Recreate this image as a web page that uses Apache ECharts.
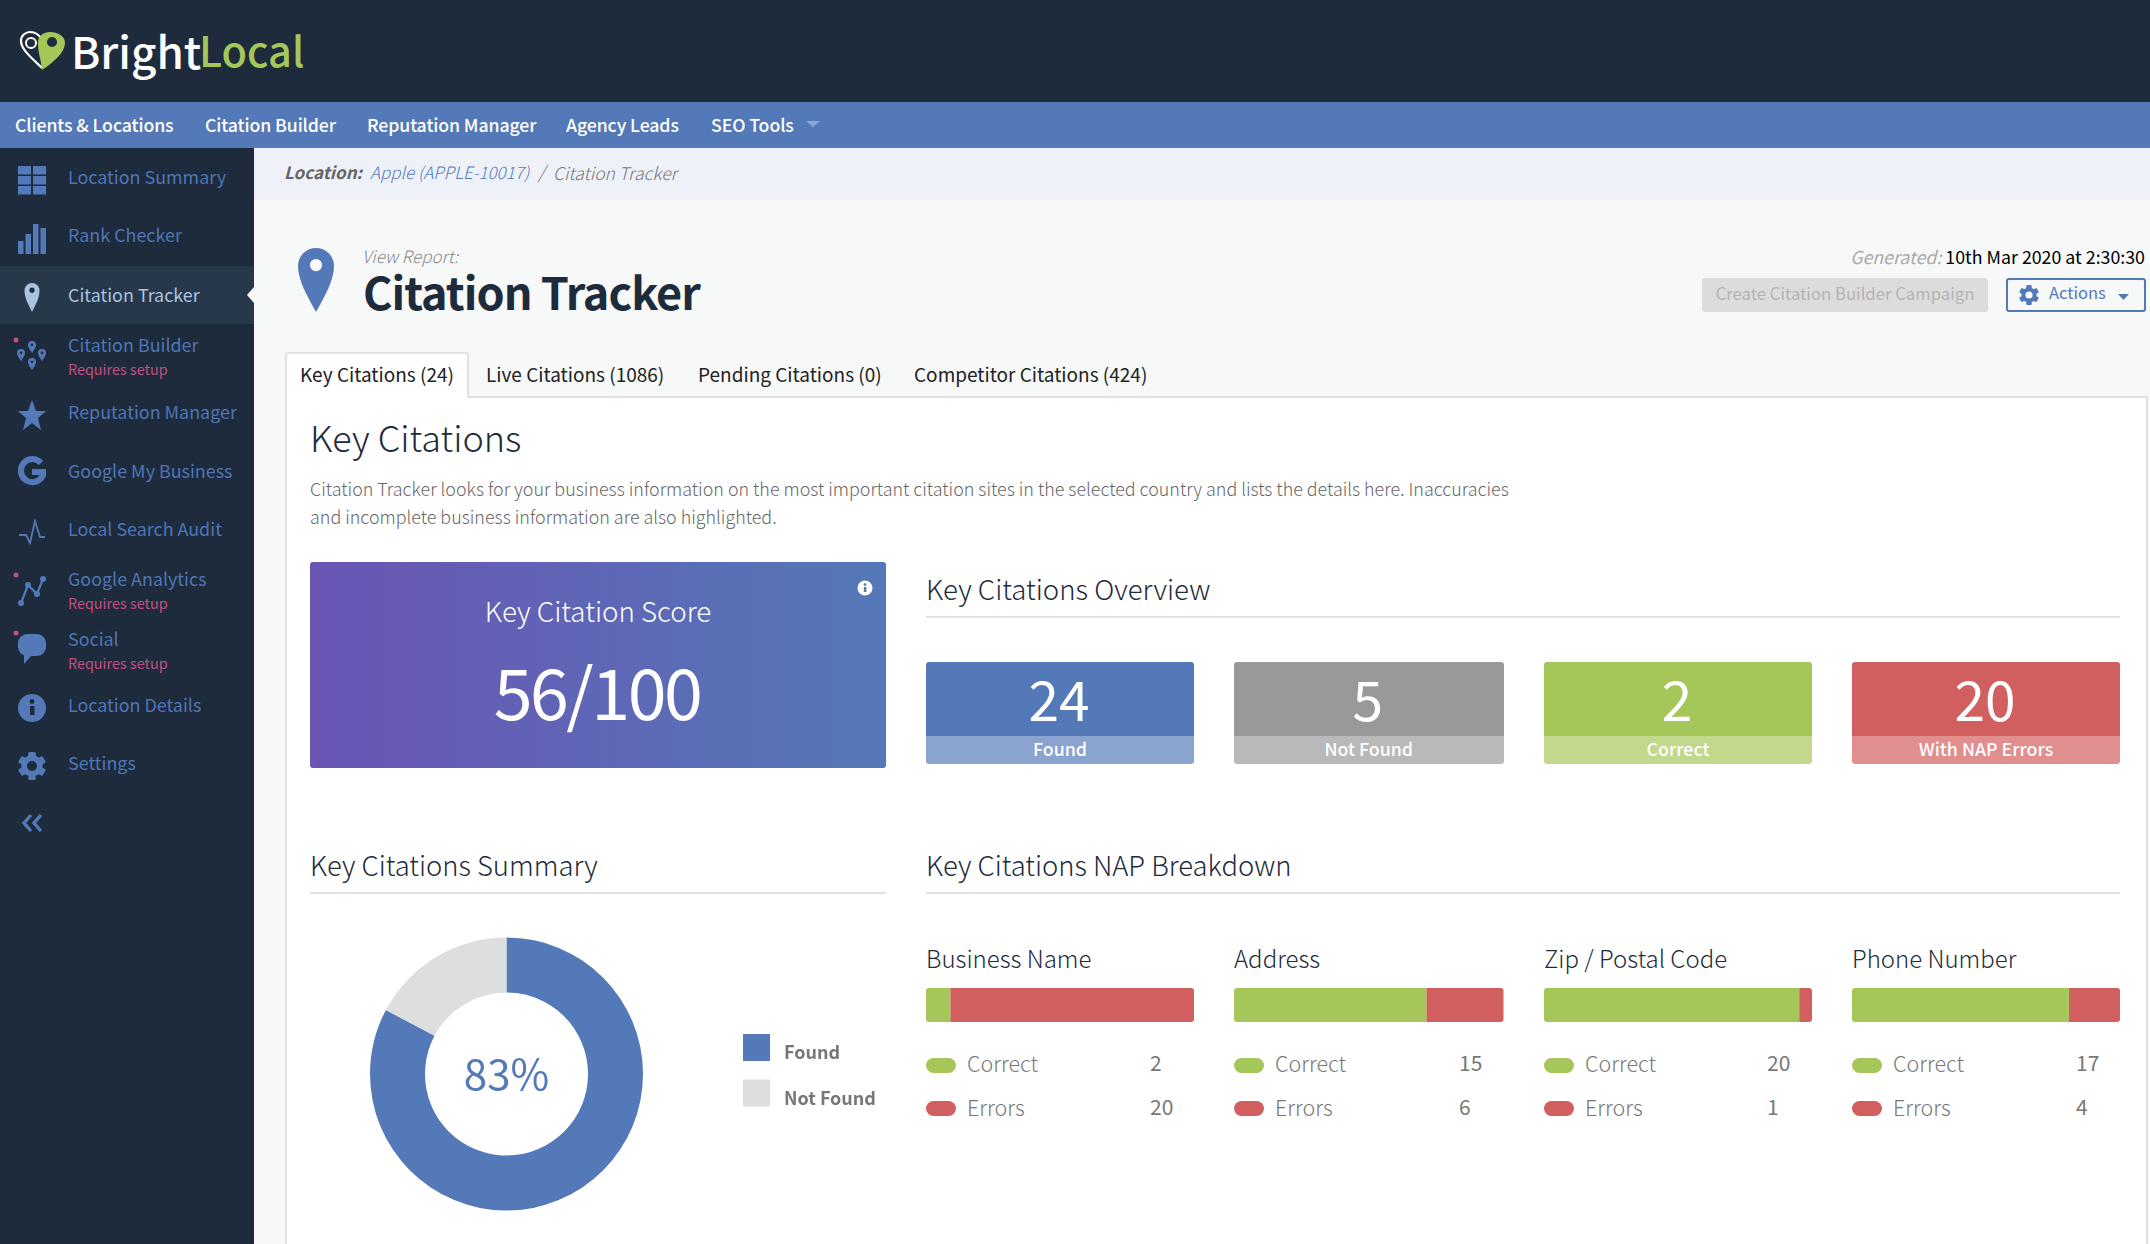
<!DOCTYPE html>
<html>
<head>
<meta charset="utf-8">
<title>Citation Tracker</title>
<script src="https://cdn.jsdelivr.net/npm/echarts@6/dist/echarts.min.js"></script>
<style>
html, body { margin: 0; padding: 0; width: 2150px; height: 1244px; overflow: hidden; background: #f7f8f8; }
body { position: relative; font-family: "Noto Sans CJK JP", "Noto Sans", sans-serif; }
.box, .t, svg { position: absolute; }
.t { white-space: nowrap; transform: translateY(-50%); line-height: 1.2; }
.c { transform: translate(-50%, -50%); text-align: center; }
#chart { position: absolute; left: 0; top: 0; width: 2150px; height: 1244px; pointer-events: none; }
</style>
</head>
<body>
<div id="page"></div>
<div id="chart"></div>
<script>
// values
var summaryLabels = ['Found', 'Not Found'];
var summaryValues = [24, 5];
var breakdownNames = ['Business Name', 'Address', 'Zip / Postal Code', 'Phone Number'];
var correctValues = [2, 15, 20, 17];
var errorValues = [20, 6, 1, 4];
var overviewLabels = ['Found', 'Not Found', 'Correct', 'With NAP Errors'];
var overviewValues = [24, 5, 2, 20];
var navLabels = ['Clients & Locations', 'Citation Builder', 'Reputation Manager', 'Agency Leads', 'SEO Tools'];
var sideLabels = ['Location Summary', 'Rank Checker', 'Citation Tracker', 'Citation Builder', 'Reputation Manager', 'Google My Business', 'Local Search Audit', 'Google Analytics', 'Social', 'Location Details', 'Settings'];
var tabLabels = ['Key Citations (24)', 'Live Citations (1086)', 'Pending Citations (0)', 'Competitor Citations (424)'];

var BLUE = '#5479b8', GREEN = '#a5c659', RED = '#d15f5f', NAVY = '#1e2b3c', GREY = '#e0e2e3';
var colX = [926, 1234, 1544, 1852];
var colW = [268, 269.5, 268, 268];
var countX = [1150, 1459, 1767, 2076];
var page = document.getElementById('page');

function box(x, y, w, h, css) {
	var d = document.createElement('div');
	d.className = 'box';
	d.style.cssText = 'left:' + x + 'px;top:' + y + 'px;width:' + w + 'px;height:' + h + 'px;' + (css || '');
	page.appendChild(d);
	return d;
}
function txt(x, y, s, size, color, css, center) {
	var d = document.createElement('div');
	d.className = center ? 't c' : 't';
	d.textContent = s;
	d.style.cssText = 'left:' + x + 'px;top:' + y + 'px;font-size:' + size + 'px;color:' + color + ';' + (css || '');
	page.appendChild(d);
	return d;
}
function svg(x, y, w, h, inner) {
	var d = document.createElement('div');
	d.innerHTML = '<svg xmlns="http://www.w3.org/2000/svg" style="left:' + x + 'px;top:' + y + 'px" width="' + w + '" height="' + h + '" viewBox="0 0 ' + w + ' ' + h + '">' + inner + '</svg>';
	page.appendChild(d.firstChild);
}
function pin(cx, top, w, h, fill, hole) {
	// teardrop location marker
	var r = w / 2;
	return '<path fill="' + fill + '" d="M' + cx + ' ' + (top + h) + 'C' + (cx - r * 0.5) + ' ' + (top + h * 0.75) + ' ' + (cx - r) + ' ' + (top + h * 0.5) + ' ' + (cx - r) + ' ' + (top + r) +
		'A' + r + ' ' + r + ' 0 0 1 ' + (cx + r) + ' ' + (top + r) + 'C' + (cx + r) + ' ' + (top + h * 0.5) + ' ' + (cx + r * 0.5) + ' ' + (top + h * 0.75) + ' ' + cx + ' ' + (top + h) + 'Z"/>' +
		'<circle cx="' + cx + '" cy="' + (top + r * 0.95) + '" r="' + (r * 0.34) + '" fill="' + hole + '"/>';
}
function gear(cx, cy, r, fill, hole) {
	var s = '';
	for (var i = 0; i < 3; i++) {
		s += '<rect x="' + (cx - r * 0.27) + '" y="' + (cy - r) + '" width="' + (r * 0.54) + '" height="' + (r * 2) + '" rx="' + (r * 0.1) + '" fill="' + fill + '" transform="rotate(' + (i * 60) + ' ' + cx + ' ' + cy + ')"/>';
	}
	return s + '<circle cx="' + cx + '" cy="' + cy + '" r="' + (r * 0.76) + '" fill="' + fill + '"/><circle cx="' + cx + '" cy="' + cy + '" r="' + (r * 0.36) + '" fill="' + hole + '"/>';
}

// page frame
box(0, 0, 2150, 102, 'background:' + NAVY);
box(0, 102, 2150, 46, 'background:' + BLUE);
box(0, 148, 254, 1096, 'background:' + NAVY);
box(254, 148, 1896, 52, 'background:#eef1f8');

// logo
svg(18, 30, 50, 42,
	'<path d="M24 38C16 30 3 20 3 11C3 5 8 2 12 2C18 2 22 6 24 10" fill="none" stroke="#fff" stroke-width="2.2"/>' +
	'<circle cx="13" cy="13" r="5" fill="none" stroke="#fff" stroke-width="2"/>' +
	'<path fill="' + GREEN + '" d="M24 40C23 28 20 24 20 13C20 6 25 2 32 2C40 2 47 6 47 13C47 22 36 32 24 40Z"/>' +
	'<circle cx="34" cy="12" r="5" fill="' + NAVY + '"/>');
txt(71, 50, 'Bright', 44, '#fff', 'font-weight:500');
txt(199, 50, 'Local', 41.5, GREEN, 'font-weight:500');

// top nav
var navX = [15, 205, 367, 566, 711];
navLabels.forEach(function(s, i) {
	txt(navX[i], 125, s, 17.7, '#fff', 'font-weight:500;letter-spacing:-0.1px');
});
svg(806, 121, 16, 8, '<path d="M0 0H14L7 6Z" fill="#8ba6d4"/>');

// sidebar
var sideY = [176.5, 235, 295, 345, 411.5, 471, 529, 579, 639, 705, 763];
var setupRows = [3, 7, 8];
box(0, 266, 254, 58, 'background:#27384b');
svg(247, 287, 7, 16, '<path d="M7 0V16L0 8Z" fill="#f7f8f8"/>');
sideLabels.forEach(function(s, i) {
	txt(68, sideY[i], s, 17.9, i === 2 ? '#a9c2df' : '#4f75b5');
	if (setupRows.indexOf(i) >= 0) txt(68, sideY[i] + 24, 'Requires setup', 14.4, '#c04f85');
});
svg(0, 150, 60, 700,
	// location summary
	'<g fill="' + BLUE + '"><rect x="18" y="16" width="13" height="8.5"/><rect x="33" y="16" width="13" height="8.5"/><rect x="18" y="26" width="13" height="8.5"/><rect x="33" y="26" width="13" height="8.5"/><rect x="18" y="36" width="13" height="8.5"/><rect x="33" y="36" width="13" height="8.5"/>' +
	// rank checker
	'<rect x="18" y="91" width="5.5" height="13"/><rect x="25.5" y="84" width="5.5" height="20"/><rect x="33" y="74" width="5.5" height="30"/><rect x="40.5" y="78" width="5.5" height="26"/></g>' +
	pin(32, 133, 15, 29, '#a9c2df', NAVY) +
	// citation builder
	pin(32, 191, 8, 12, BLUE, NAVY) + pin(21, 199, 8, 12, BLUE, NAVY) + pin(42, 199, 8, 12, BLUE, NAVY) + pin(32, 208, 8, 12, BLUE, NAVY) +
	'<circle cx="16" cy="190" r="2.5" fill="#c04f85"/>' +
	// star
	'<path fill="' + BLUE + '" d="M32 250L36 261H46L38 268L41 280L32 273L23 280L26 268L18 261H28Z"/>' +
	// G
	'<path fill="none" stroke="' + BLUE + '" stroke-width="6" d="M41 313A11.5 11.5 0 1 0 43 325V322H32"/>' +
	// pulse
	'<path fill="none" stroke="' + BLUE + '" stroke-width="1.8" d="M19 385H26L30 393L35 371L40 387H45"/>' +
	// analytics
	'<path fill="none" stroke="' + BLUE + '" stroke-width="2.2" d="M21 453L28 435L37 444L43 429"/>' +
	'<g fill="' + BLUE + '"><circle cx="21" cy="453" r="3"/><circle cx="28" cy="435" r="3"/><circle cx="37" cy="444" r="3"/><circle cx="43" cy="429" r="3"/></g>' +
	'<circle cx="16" cy="425" r="2.5" fill="#c04f85"/>' +
	// social
	'<rect x="18" y="484" width="28" height="22" rx="9" fill="' + BLUE + '"/><path fill="' + BLUE + '" d="M24 502L24 514L33 504Z"/>' +
	'<circle cx="16" cy="483" r="2.5" fill="#c04f85"/>' +
	// details
	'<circle cx="32" cy="558" r="14" fill="' + BLUE + '"/><rect x="30" y="556" width="4.5" height="9" fill="' + NAVY + '"/><circle cx="32" cy="551.5" r="2.4" fill="' + NAVY + '"/>' +
	gear(32, 616, 14, BLUE, NAVY) +
	// collapse
	'<path fill="none" stroke="' + BLUE + '" stroke-width="3.4" d="M31 665L24 673L31 681M41 665L34 673L41 681"/>');

// breadcrumb
txt(284, 172, 'Location:', 17, '#666', 'font-style:italic;font-weight:700');
txt(370, 172, 'Apple (APPLE-10017)', 17, BLUE, 'font-style:italic;font-weight:300');
txt(538, 172, '/', 18, '#777', 'font-style:italic;font-weight:300');
txt(553, 172, 'Citation Tracker', 17.5, '#777', 'font-style:italic;font-weight:300');

// report heading
svg(295, 246, 42, 68, pin(21, 2, 36, 64, BLUE, '#f7f8f8'));
txt(362, 256, 'View Report:', 17, '#888', 'font-style:italic;font-weight:300');
txt(363, 291, 'Citation Tracker', 45, NAVY, 'font-weight:700;letter-spacing:-1px');
var genText = txt(2145, 257, '', 17.8, '#000', 'transform:translate(-100%,-50%)');
genText.innerHTML = '<span style="color:#aaa;font-style:italic">Generated:</span> 10th Mar 2020 at 2:30:30';
box(1702, 278, 286, 34, 'background:#dcdcdc;border-radius:3px');
txt(1845, 293, 'Create Citation Builder Campaign', 16.7, '#b4b4b4', '', true);
box(2006, 278, 136, 30, 'border:2px solid ' + BLUE + ';border-radius:3px');
svg(2018, 285, 24, 22, gear(11, 10, 10, BLUE, '#f7f8f8'));
txt(2049, 293, 'Actions', 16.5, BLUE);
svg(2118, 294, 12, 7, '<path d="M0 0H11L5.5 6Z" fill="' + BLUE + '"/>');

// tabs and panel
box(285, 396, 1859, 860, 'background:#fff;border:2px solid ' + GREY);
box(285, 352, 184, 46, 'background:#fff;box-sizing:border-box;border:2px solid ' + GREY + ';border-bottom:0;border-radius:3px 3px 0 0');
var tabX = [300, 486, 698, 914];
tabLabels.forEach(function(s, i) {
	txt(tabX[i], 373.5, s, 19, '#222');
});

// intro
txt(310, 437, 'Key Citations', 36, NAVY, 'font-weight:300');
txt(310, 488.5, 'Citation Tracker looks for your business information on the most important citation sites in the selected country and lists the details here. Inaccuracies', 17.9, '#666', 'font-weight:300');
txt(310, 517, 'and incomplete business information are also highlighted.', 17.9, '#666', 'font-weight:300');

// score card
box(310, 562, 576, 206, 'background:linear-gradient(90deg,#6a54b4,' + BLUE + ');border-radius:3px');
txt(598, 611, 'Key Citation Score', 27.7, '#fff', 'font-weight:300', true);
txt(597, 689.5, '56/100', 70, '#fff', 'letter-spacing:-2.5px', true);
svg(857, 580, 16, 16, '<circle cx="8" cy="8" r="7.5" fill="#fff"/><rect x="6.8" y="7" width="2.6" height="5" fill="' + BLUE + '"/><circle cx="8" cy="4.6" r="1.4" fill="' + BLUE + '"/>');

// overview tiles
txt(926, 589, 'Key Citations Overview', 27.6, NAVY, 'font-weight:300');
box(926, 616, 1194, 2, 'background:' + GREY);
var tileMain = [BLUE, '#999', GREEN, RED];
var tileBand = ['#8aa3cf', '#b9b9b9', '#c2d88c', '#e08e8e'];
overviewLabels.forEach(function(s, i) {
	box(colX[i], 662, colW[i], 74, 'background:' + tileMain[i] + ';border-radius:3px 3px 0 0');
	box(colX[i], 736, colW[i], 28, 'background:' + tileBand[i] + ';border-radius:0 0 3px 3px');
	txt(colX[i] + colW[i] / 2 - 1, 696.5, String(overviewValues[i]), 55, '#fff', '', true);
	txt(colX[i] + colW[i] / 2, 748.5, s, 17.8, '#fff', 'font-weight:500', true);
});

// section heads
txt(310, 864, 'Key Citations Summary', 27.4, NAVY, 'font-weight:300');
box(310, 892, 576, 2, 'background:' + GREY);
txt(926, 864, 'Key Citations NAP Breakdown', 27.4, NAVY, 'font-weight:300');
box(926, 892, 1194, 2, 'background:' + GREY);

// nap breakdown captions and counts
breakdownNames.forEach(function(s, i) {
	txt(colX[i], 957.5, s, 24, NAVY, 'font-weight:300');
	box(colX[i], 1058, 30, 15, 'background:' + GREEN + ';border-radius:8px');
	box(colX[i], 1101, 30, 15, 'background:' + RED + ';border-radius:8px');
	txt(colX[i] + 41, 1063, 'Correct', 21.5, '#777', 'font-weight:300');
	txt(colX[i] + 41, 1107, 'Errors', 21.5, '#777', 'font-weight:300');
	txt(countX[i], 1063, String(correctValues[i]), 21, '#777');
	txt(countX[i], 1107, String(errorValues[i]), 21, '#777');
});

// charts
var chart = echarts.init(document.getElementById('chart'), null, { renderer: 'canvas' });
var grids = [], xAxes = [], yAxes = [], series = [];
breakdownNames.forEach(function(name, i) {
	grids.push({ left: colX[i], top: 988, width: colW[i], height: 34 });
	xAxes.push({ gridIndex: i, type: 'value', min: 0, max: correctValues[i] + errorValues[i], show: false });
	yAxes.push({ gridIndex: i, type: 'category', data: [name], show: false });
	series.push({
		name: 'Correct',
		type: 'bar',
		stack: 'nap' + i,
		xAxisIndex: i,
		yAxisIndex: i,
		barWidth: 34,
		itemStyle: { color: GREEN, borderRadius: [3, 0, 0, 3] },
		data: [correctValues[i]]
	}, {
		name: 'Errors',
		type: 'bar',
		stack: 'nap' + i,
		xAxisIndex: i,
		yAxisIndex: i,
		barWidth: 34,
		itemStyle: { color: RED, borderRadius: [0, 3, 3, 0] },
		data: [errorValues[i]]
	});
});
series.push({
	name: 'Key Citations Summary',
	type: 'pie',
	center: [506.5, 1074],
	radius: [81.5, 136.5],
	startAngle: 90,
	silent: true,
	label: {
		show: true,
		position: 'center',
		formatter: function() {
			return Math.round(summaryValues[0] / (summaryValues[0] + summaryValues[1]) * 100) + '%';
		},
		fontSize: 42,
		fontWeight: 400,
		fontFamily: '"Noto Sans CJK JP"',
		color: BLUE
	},
	labelLine: { show: false },
	data: [
		{ name: summaryLabels[0], value: summaryValues[0], itemStyle: { color: BLUE } },
		{ name: summaryLabels[1], value: summaryValues[1], itemStyle: { color: '#dcdee0' }, label: { show: false } }
	]
});
chart.setOption({
	animation: false,
	backgroundColor: 'transparent',
	grid: grids,
	xAxis: xAxes,
	yAxis: yAxes,
	legend: {
		data: summaryLabels,
		orient: 'vertical',
		left: 743,
		top: 1034,
		padding: 0,
		icon: 'rect',
		itemWidth: 27,
		itemHeight: 27,
		itemGap: 18,
		selectedMode: false,
		formatter: '{t|{name}}',
		textStyle: {
			rich: {
				t: {
					fontFamily: '"Noto Sans CJK JP"',
					fontSize: 18,
					fontWeight: 700,
					color: '#777',
					lineHeight: 28,
					verticalAlign: 'bottom',
					padding: [0, 0, 0, 9]
				}
			}
		}
	},
	series: series
});
</script>
</body>
</html>
